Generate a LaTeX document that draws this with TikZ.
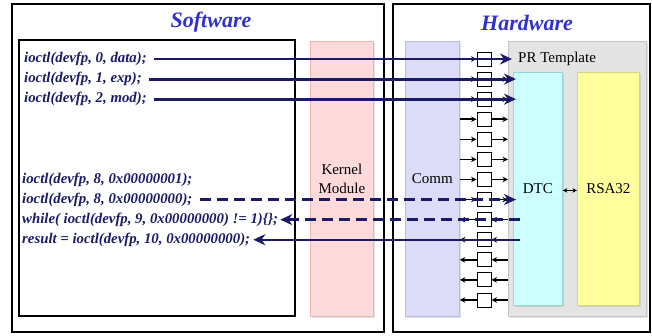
\documentclass[tikz,border=0pt]{standalone}
\usepackage{fontspec}
\setmainfont{Liberation Serif}
\usetikzlibrary{arrows.meta,shadows,calc}

\definecolor{navy}{RGB}{26,26,104}
\definecolor{titleblue}{RGB}{48,48,205}
\definecolor{kernfill}{RGB}{255,218,218}
\definecolor{kerndraw}{RGB}{232,180,180}
\definecolor{commfill}{RGB}{220,220,248}
\definecolor{commdraw}{RGB}{186,186,226}
\definecolor{prfill}{RGB}{228,228,228}
\definecolor{prdraw}{RGB}{196,196,196}
\definecolor{dtcfill}{RGB}{204,255,255}
\definecolor{dtcdraw}{RGB}{150,214,214}
\definecolor{rsafill}{RGB}{255,255,158}
\definecolor{rsadraw}{RGB}{214,214,130}

\tikzset{
  panel/.style={draw=black, line width=1.2pt},
  codebox/.style={draw=black, line width=1.8pt},
  code/.style={font=\fontsize{14.8}{17}\selectfont\bfseries\itshape, text=navy, inner sep=0pt, anchor=west},
  title/.style={font=\fontsize{22}{26}\selectfont\bfseries\itshape, text=titleblue},
  block/.style={inner sep=0pt, anchor=north west, line width=0.8pt,
    font=\fontsize{15}{18.5}\selectfont, align=center,
    drop shadow={shadow xshift=1.5pt, shadow yshift=-1.5pt, opacity=0.22}},
  reg/.style={draw=black, fill=white, line width=0.9pt, minimum width=14pt, minimum height=14pt, inner sep=0pt},
  wire/.style={line width=1.6pt, -{Stealth[length=5.5pt,width=5.5pt]}},
  bus/.style={draw=navy, line width=2.9pt, -{Stealth[length=12pt,width=11pt]}},
  busdash/.style={bus, dash pattern=on 11pt off 6pt},
}

\begin{document}
\begin{tikzpicture}[x=1pt,y=-1pt]
\useasboundingbox (0,0) rectangle (652,335);

% two panels
\draw[panel] (12,4) rectangle (384,332);
\draw[panel] (393,4) rectangle (650,332);
\node[title] (sw) at (211,22) {Software};
\node[title] (hw) at (527,23) {Hardware};

% user-space code frame
\draw[codebox] (19,40) rectangle (295,316);

% kernel driver and hardware blocks
\node[block, fill=kernfill, draw=kerndraw, minimum width=63pt, minimum height=275pt] (kern) at (310,41) {Kernel\\Module};
\node[block, fill=commfill, draw=commdraw, minimum width=54pt, minimum height=275pt] (comm) at (405,41) {Comm};
\node[block, fill=prfill, draw=prdraw, minimum width=138pt, minimum height=275pt] (pr) at (508,41) {};
\node[font=\fontsize{15}{18}\selectfont, anchor=west, inner sep=0pt] (prlbl) at (518,59) {PR Template};
\node[block, fill=dtcfill, draw=dtcdraw, minimum width=49pt, minimum height=233pt] (dtc) at (513,72) {DTC};
\node[block, fill=rsafill, draw=rsadraw, minimum width=62pt, minimum height=233pt] (rsa) at (577,72) {RSA32};
\draw[line width=1.2pt, {Stealth[length=4.5pt,width=4.5pt]}-{Stealth[length=4.5pt,width=4.5pt]}]
  ([yshift=-1.5pt]dtc.east) -- ([yshift=-1.5pt]rsa.west);

% register column between Comm and the PR template
\foreach \i in {1,...,13} {
  \node[reg] (r\i) at (484,{59+20.08*(\i-1)}) {};
}
\foreach \i in {1,...,8} {
  \draw[wire] (r\i.west -| comm.east) -- (r\i.west);
  \draw[wire] (r\i.east) -- (r\i.east -| pr.west);
}
\foreach \i in {9,...,13} {
  \draw[wire] (r\i.east -| pr.west) -- (r\i.east);
  \draw[wire] (r\i.west) -- (r\i.west -| comm.east);
}

% ioctl calls
\node[code] (c1) at (24,59) {ioctl(devfp, 0, data);};
\node[code] (c2) at (24,79.08) {ioctl(devfp, 1, exp);};
\node[code] (c3) at (24,99.16) {ioctl(devfp, 2, mod);};
\node[code] (c4) at (22,179.48) {ioctl(devfp, 8, 0x00000001);};
\node[code] (c5) at (22,199.56) {ioctl(devfp, 8, 0x00000000);};
\node[code] (c6) at (22,219.64) {while( ioctl(devfp, 9, 0x00000000) != 1)\{\};};
\node[code] (c7) at (22,239.72) {result = ioctl(devfp, 10, 0x00000000);};

% data paths from software to hardware and back
\draw[bus] ([xshift=7pt]c1.east) -- ([xshift=4pt]c1.east -| pr.west);
\draw[bus] ([xshift=7pt]c2.east) -- ([xshift=3pt]c2.east -| dtc.west);
\draw[bus] ([xshift=7pt]c3.east) -- ([xshift=3pt]c3.east -| dtc.west);
\draw[busdash] ([xshift=7pt]c5.east) -- ([xshift=3pt]c5.east -| dtc.west);
\draw[busdash] ([xshift=7pt]c6.east -| dtc.west) -- ([xshift=2pt]c6.east);
\draw[bus, line width=2.2pt] ([xshift=7pt]c7.east -| dtc.west) -- ([xshift=3pt]c7.east);
\end{tikzpicture}
\end{document}
